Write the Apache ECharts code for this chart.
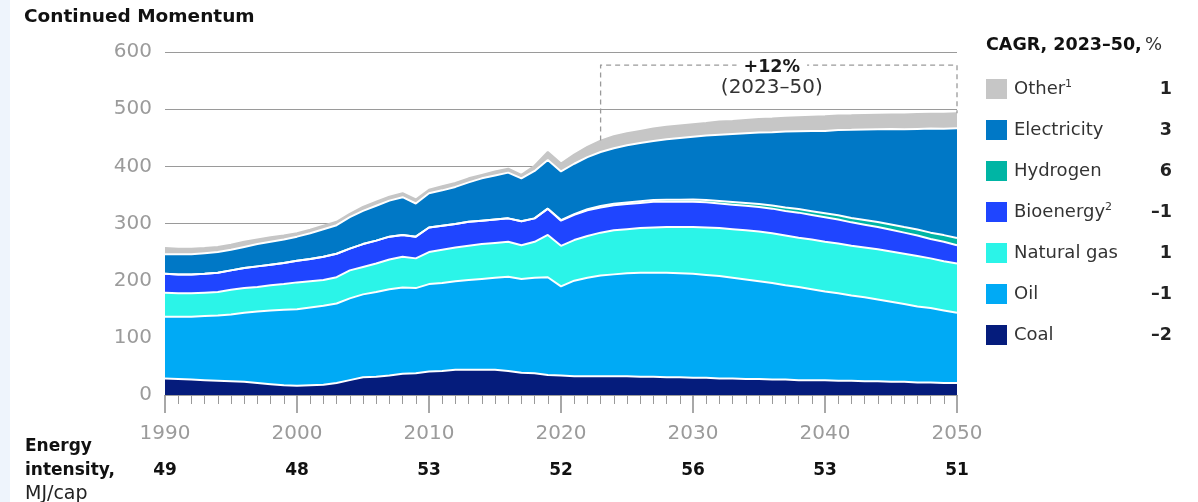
<!DOCTYPE html>
<html>
<head>
<meta charset="utf-8">
<title>Continued Momentum</title>
<script src="https://cdn.jsdelivr.net/npm/echarts@6/dist/echarts.min.js"></script>
<style>
  html, body { margin: 0; padding: 0; background: #ffffff; }
  #strip { position: absolute; left: 0; top: 0; width: 10px; height: 502px; background: #EEF4FC; }
  #chart { position: absolute; left: 0; top: 0; width: 1198px; height: 502px; }
</style>
</head>
<body>
<div id="strip"></div>
<div id="chart"></div>
<script>
// Years on the x axis, 1990 through 2050
const years = [];
for (let y = 1990; y <= 2050; y++) years.push(y);

// Final energy consumption by source (stacked), one value per year 1990..2050
const coal = [29,28,27,26,25,24,23,21,19,17, 16,17,18,21,26,31,32,34,37,38,
  41,42,44,44,44,44,42,39,38,35, 34,33,33,33,33,33,32,32,31,31,
  30,30,29,29,28,28,27,27,26,26, 26,25,25,24,24,23,23,22,22,21, 21];
const oil = [108,109,110,112,114,117,121,125,129,132, 134,136,138,139,143,145,148,151,151,149,
  153,154,155,157,159,161,165,164,167,171, 156,167,172,176,178,180,182,182,183,182,
  182,180,179,176,174,171,169,165,163,159, 155,153,149,147,143,140,136,133,130,127, 123];
const naturalGas = [42,41,41,41,41,43,43,43,44,45, 47,46,45,46,49,48,50,52,54,52,
  56,58,59,60,61,61,61,59,63,74, 71,71,73,75,77,77,78,79,80,81,
  82,83,84,85,86,87,87,87,86,87, 87,87,87,87,88,88,88,88,87,86, 86];
const bioenergy = [33,33,33,33,34,34,35,36,36,37, 38,39,41,41,38,40,40,40,38,38,
  43,42,41,42,41,41,41,42,41,46, 44,44,45,44,44,44,44,45,44,44,
  44,44,43,43,43,43,43,43,44,43, 43,42,41,40,39,38,37,36,34,34, 32];
const hydrogen = [0,0,0,0,0,0,0,0,0,0, 0,0,0,0,0,0,0,0,0,0,
  0,0,0,0,0,0,0,0,0,0, 1,1.5,2,2.5,2.6,2.8,3,3.2,3.4,3.6,
  3.8,4,4.3,4.6,4.9,5.2,5.5,5.8,6.2,6.6, 7,7.4,7.8,8.3,8.8,9.3,9.8,10.4,11,11.7, 12.5];
const electricity = [34,35,35,36,36,36,37,39,40,41, 42,45,48,50,55,58,61,63,66,58,
  60,62,65,69,74,77,80,75,83,85, 85,88,91,94.5,97,100,102,103,106,108,
  110,113,116,119,122,125,128,133,136,140, 144,149,154,158,162,167,171,176,182,186, 192];
const other = [11,10,10,9,9,9,9,8,8,7, 6,6,6,6,6,7,7,7,7,7,
  6,7,7,7,6,7,7,6,9,14, 14,16,18,20,21,21,21,22,22,22,
  22,22,23,22.5,23,23.5,24,24,24.5,25, 25.5,25.5,25.5,25.5,25.5,25.5,26,26,26,26.5, 26.5];

// Legend rows (top to bottom) and their compound annual growth, 2023-50, %
const legendNames = ['Other', 'Electricity', 'Hydrogen', 'Bioenergy', 'Natural gas', 'Oil', 'Coal'];
const cagr = [1, 3, 6, -1, 1, -1, -2];

// Energy intensity row shown under the axis
const intensityYears = [1990, 2000, 2010, 2020, 2030, 2040, 2050];
const intensityValues = [49, 48, 53, 52, 56, 53, 51];

// Growth annotation for the projection period
const growthStart = 2023;
const growthEnd = 2050;
const growthBoxTop = 577;
const growthLabel = '+12%';
const growthPeriod = '(2023\u201350)';

const FONT = '"DejaVu Sans", sans-serif';

const layers = [
  { name: 'Coal', data: coal, color: '#051C7C' },
  { name: 'Oil', data: oil, color: '#00AAF5' },
  { name: 'Natural gas', data: naturalGas, color: '#2BF4E8' },
  { name: 'Bioenergy', data: bioenergy, color: '#1F45FF' },
  { name: 'Hydrogen', data: hydrogen, color: '#00B5A4' },
  { name: 'Electricity', data: electricity, color: '#0078C6' },
  { name: 'Other', data: other, color: '#C6C6C6' }
];

const chart = echarts.init(document.getElementById('chart'), null, { renderer: 'canvas' });

chart.setOption({
  animation: false,
  grid: { left: 165, right: 241, top: 52, bottom: 107, containLabel: false },
  xAxis: [
    // one slot per year: carries the stacked areas
    { type: 'category', data: years, boundaryGap: false, show: false },
    // visible year scale with decade labels and yearly minor ticks
    {
      type: 'value', min: 1990, max: 2050, interval: 10, position: 'bottom',
      axisLine: { show: true, lineStyle: { color: '#a0a0a0', width: 1 } },
      axisTick: { show: true, length: 18, lineStyle: { color: '#8c8c8c', width: 1.5 } },
      minorTick: { show: true, splitNumber: 10, length: 9, lineStyle: { color: '#9a9a9a', width: 1 } },
      axisLabel: { color: '#9b9b9b', fontFamily: FONT, fontSize: 20, margin: 29,
        formatter: function (v) { return String(v); } },
      splitLine: { show: false },
      minorSplitLine: { show: false }
    }
  ],
  yAxis: {
    type: 'value', min: 0, max: 600, interval: 100,
    axisLine: { show: false },
    axisTick: { show: false },
    axisLabel: { color: '#9b9b9b', fontFamily: FONT, fontSize: 20, margin: 13 },
    splitLine: { lineStyle: { color: '#9a9a9a', width: 1 } }
  },
  legend: {
    orient: 'vertical', left: 986, top: 79, padding: 0,
    itemWidth: 21, itemHeight: 20, itemGap: 21,
    icon: 'rect', selectedMode: false,
    data: legendNames,
    formatter: function (name) {
      if (name === 'Other') return '{n|Other}{s|1}';
      if (name === 'Bioenergy') return '{n|Bioenergy}{s|2}';
      return '{n|' + name + '}';
    },
    textStyle: {
      padding: [0, 0, 0, 2],
      rich: {
        n: { fontFamily: FONT, fontSize: 18, color: '#333333', lineHeight: 20 },
        s: { fontFamily: FONT, fontSize: 11, color: '#333333', lineHeight: 11, verticalAlign: 'top' }
      }
    }
  },
  series: layers.map(function (l) {
    return {
      name: l.name, type: 'line', stack: 'total', symbol: 'none', smooth: false,
      xAxisIndex: 0, yAxisIndex: 0,
      data: l.data,
      lineStyle: { color: l.name === 'Other' ? l.color : '#ffffff', width: 2 },
      areaStyle: { color: l.color, opacity: 1 },
      itemStyle: { color: l.color },
      emphasis: { disabled: true },
      silent: true
    };
  })
});

// Totals used to anchor the growth annotation box
function totalAt(year) {
  const i = years.indexOf(year);
  return layers.reduce(function (s, l) { return s + l.data[i]; }, 0);
}
function px(x, y) {
  return [chart.convertToPixel({ xAxisIndex: 1 }, x), chart.convertToPixel({ yAxisIndex: 0 }, y)];
}

const pStartLow = px(growthStart, totalAt(growthStart));
const pStartTop = px(growthStart, growthBoxTop);
const pEndTop = px(growthEnd, growthBoxTop);
const pEndLow = px(growthEnd, totalAt(growthEnd));
const midX = (pStartTop[0] + pEndTop[0]) / 2 - 7;

const dash = { stroke: '#9a9a9a', lineWidth: 1.3, lineDash: [5, 4], fill: null };

const graphics = [
  { type: 'text', left: 24, top: 8, style: { text: 'Continued Momentum', fontFamily: FONT, fontSize: 18.5, fontWeight: 'bold', fill: '#111111' } },
  { type: 'polyline', shape: { points: [pStartLow, pStartTop, pEndTop, pEndLow] }, style: dash, z: 10 },
  { type: 'text', x: midX, y: pStartTop[1] + 2, z: 11,
    style: { text: growthLabel, fontFamily: FONT, fontSize: 17.5, fontWeight: 'bold', fill: '#1a1a1a',
      align: 'center', verticalAlign: 'middle', backgroundColor: '#ffffff', padding: [2, 7] } },
  { type: 'text', x: midX, y: pStartTop[1] + 23, z: 11,
    style: { text: growthPeriod, fontFamily: FONT, fontSize: 20, fill: '#333333', align: 'center', verticalAlign: 'middle' } },
  { type: 'text', x: 986, y: 45,
    style: { text: '{b|CAGR, 2023\u201350,} {r|%}', verticalAlign: 'middle',
      rich: {
        b: { fontFamily: FONT, fontSize: 17.5, fontWeight: 'bold', fill: '#111111' },
        r: { fontFamily: FONT, fontSize: 18, fill: '#333333' }
      } } },
  { type: 'text', x: 25, y: 447, style: { text: 'Energy', fontFamily: FONT, fontSize: 17, fontWeight: 'bold', fill: '#111111', verticalAlign: 'middle' } },
  { type: 'text', x: 25, y: 471, style: { text: 'intensity,', fontFamily: FONT, fontSize: 17, fontWeight: 'bold', fill: '#111111', verticalAlign: 'middle' } },
  { type: 'text', x: 25, y: 494, style: { text: 'MJ/cap', fontFamily: FONT, fontSize: 19, fill: '#222222', verticalAlign: 'middle' } }
];

cagr.forEach(function (v, i) {
  graphics.push({ type: 'text', x: 1172, y: 89 + i * 41,
    style: { text: (v < 0 ? '\u2013' + Math.abs(v) : String(v)), fontFamily: FONT, fontSize: 17.5, fontWeight: 'bold',
      fill: '#222222', align: 'right', verticalAlign: 'middle' } });
});

intensityYears.forEach(function (yr, i) {
  const p = px(yr, 0);
  graphics.push({ type: 'text', x: p[0], y: 471,
    style: { text: String(intensityValues[i]), fontFamily: FONT, fontSize: 17, fontWeight: 'bold',
      fill: '#111111', align: 'center', verticalAlign: 'middle' } });
});

chart.setOption({ graphic: graphics });
</script>
</body>
</html>
